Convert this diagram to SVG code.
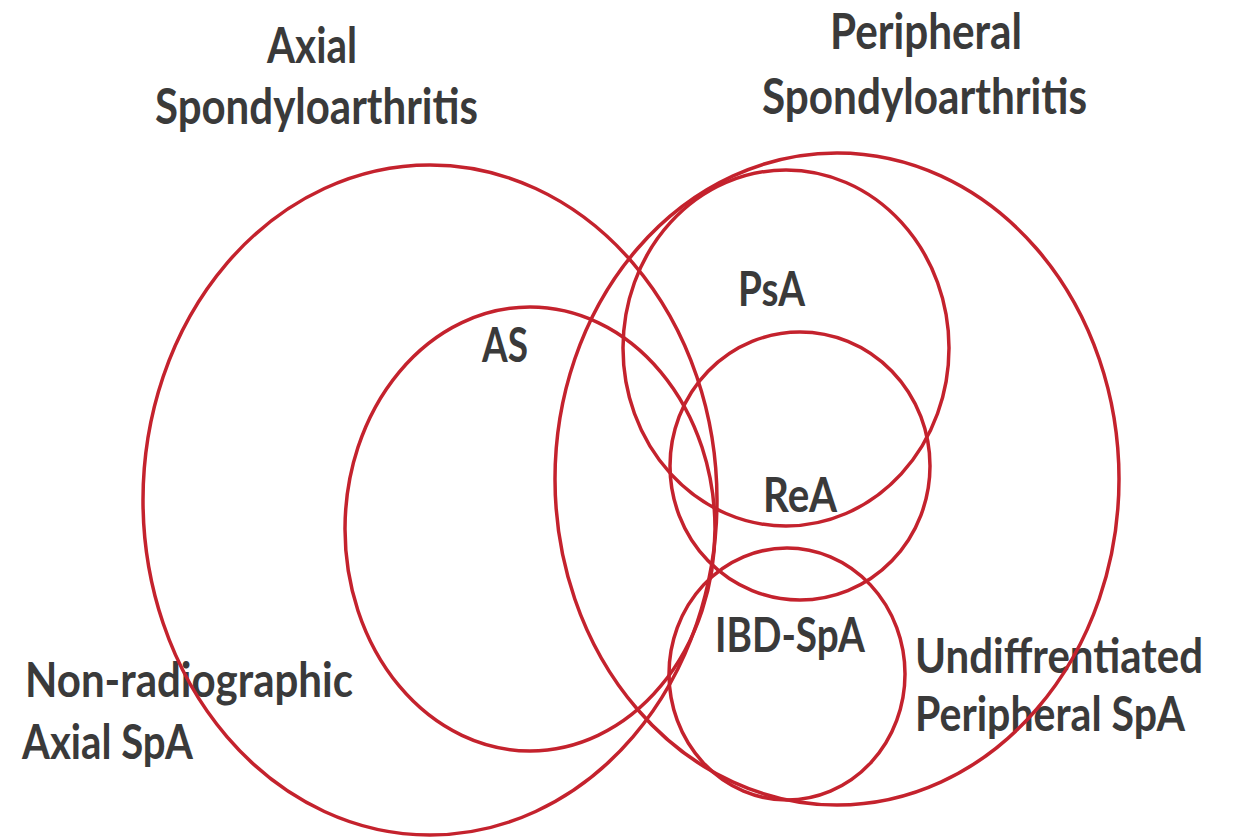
<svg xmlns="http://www.w3.org/2000/svg" width="1233" height="838" viewBox="0 0 1233 838">
  <style>
    .set { fill: none; stroke: #c4222d; stroke-width: 3.5; }
    .lbl { font-family: Lato, "Open Sans", "Liberation Sans", sans-serif; font-size: 48px; font-weight: bold; fill: #3a3a3a; }
    .ttl { font-size: 50px; }
  </style>
  <rect x="0" y="0" width="1233" height="838" fill="#ffffff"/>
  <g id="titles">
    <text class="lbl ttl" x="267" y="63" textLength="90" lengthAdjust="spacingAndGlyphs">Axial</text>
    <text class="lbl ttl" x="155" y="124" textLength="323" lengthAdjust="spacingAndGlyphs">Spondyloarthritis</text>
    <text class="lbl ttl" x="830" y="49" textLength="192" lengthAdjust="spacingAndGlyphs">Peripheral</text>
    <text class="lbl ttl" x="762" y="114" textLength="325" lengthAdjust="spacingAndGlyphs">Spondyloarthritis</text>
  </g>
  <g id="axial-spa">
    <text class="lbl" x="25" y="697" textLength="328" lengthAdjust="spacingAndGlyphs">Non-radiographic</text>
    <text class="lbl" x="22" y="759" textLength="171" lengthAdjust="spacingAndGlyphs">Axial SpA</text>
    <ellipse class="set" cx="430" cy="500" rx="287" ry="335"/>
  </g>
  <g id="as">
    <text class="lbl" x="482" y="362" textLength="46" lengthAdjust="spacingAndGlyphs">AS</text>
    <ellipse class="set" cx="530" cy="529" rx="185" ry="222"/>
  </g>
  <g id="peripheral-spa">
    <text class="lbl" x="915" y="673" textLength="288" lengthAdjust="spacingAndGlyphs">Undiffrentiated</text>
    <text class="lbl" x="915" y="731" textLength="270" lengthAdjust="spacingAndGlyphs">Peripheral SpA</text>
    <ellipse class="set" cx="837" cy="479" rx="282" ry="326"/>
  </g>
  <g id="psa">
    <text class="lbl" x="738" y="306" textLength="67" lengthAdjust="spacingAndGlyphs">PsA</text>
    <ellipse class="set" cx="786" cy="348" rx="163" ry="178"/>
  </g>
  <g id="rea">
    <text class="lbl" x="763" y="512" textLength="74" lengthAdjust="spacingAndGlyphs">ReA</text>
    <ellipse class="set" cx="800" cy="466" rx="130" ry="134"/>
  </g>
  <g id="ibd-spa">
    <text class="lbl" x="715" y="652" textLength="150" lengthAdjust="spacingAndGlyphs">IBD-SpA</text>
    <ellipse class="set" cx="787" cy="674" rx="118" ry="126"/>
  </g>
  <g id="connectors"/>
</svg>
